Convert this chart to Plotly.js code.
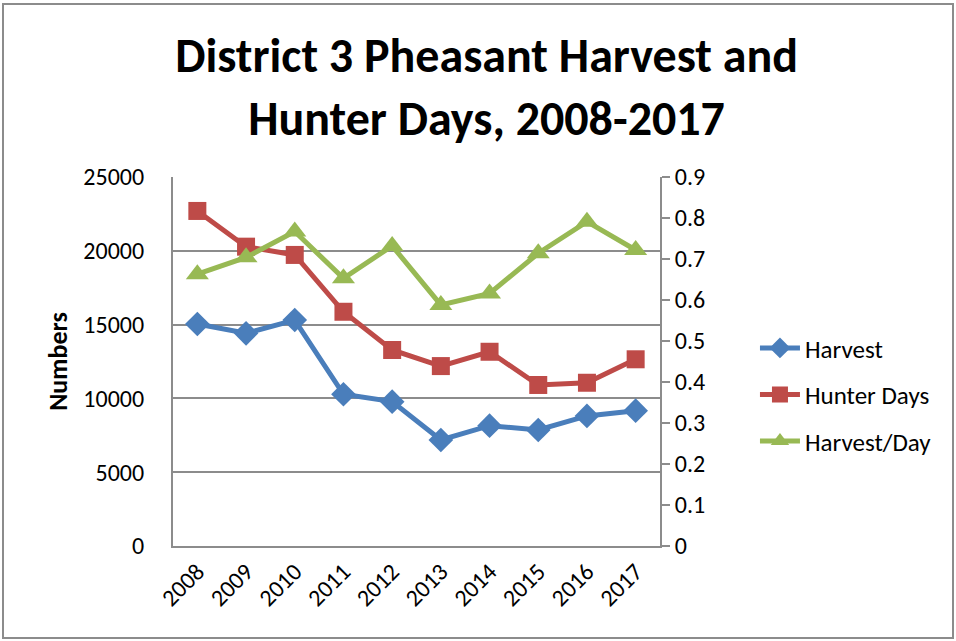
<!DOCTYPE html>
<html>
<head>
<meta charset="utf-8">
<script src="https://cdn.plot.ly/plotly-3.0.1.min.js"></script>
<style>
html,body{margin:0;padding:0;background:#fff;}
#frame{position:absolute;left:2px;top:3px;width:948px;height:632px;border:2px solid #8c8c8c;}
#chart{position:absolute;left:0;top:0;width:956px;height:641px;}
</style>
</head>
<body>
<div id="frame"></div>
<div id="chart"></div>
<script>
const years = ['2008','2009','2010','2011','2012','2013','2014','2015','2016','2017'];
const harvest = [15040, 14410, 15310, 10280, 9780, 7180, 8150, 7860, 8810, 9170];
const hunterDays = [22700, 20280, 19720, 15870, 13280, 12190, 13160, 10910, 11060, 12650];
const harvestPerDay = [0.663, 0.704, 0.767, 0.653, 0.732, 0.588, 0.616, 0.714, 0.791, 0.722];
const leftTicks = [0, 5000, 10000, 15000, 20000, 25000];
const rightTicks = [0, 0.1, 0.2, 0.3, 0.4, 0.5, 0.6, 0.7, 0.8, 0.9];

const font = 'Carlito, Calibri, "Liberation Sans Narrow", "Open Sans", sans-serif';

const traces = [
  {x: years, y: harvest, name: 'Harvest', type: 'scatter', mode: 'lines+markers', legendgroup: 'a',
   line: {color: '#4A7EBB', width: 5}, marker: {symbol: 'diamond', size: 19, color: '#4A7EBB'}},
  {x: years, y: hunterDays, name: 'Hunter Days', type: 'scatter', mode: 'lines+markers', legendgroup: 'b',
   line: {color: '#BE4B48', width: 5}, marker: {symbol: 'square', size: 18, color: '#BE4B48'}},
  {x: years, y: harvestPerDay, name: 'Harvest/Day', type: 'scatter', mode: 'lines+markers', yaxis: 'y2', legendgroup: 'c',
   line: {color: '#98B954', width: 5}, marker: {symbol: 'triangle-up', size: 20, color: '#98B954'}}
];

const layout = {
  width: 956, height: 641,
  paper_bgcolor: 'rgba(0,0,0,0)', plot_bgcolor: '#fff',
  margin: {l: 173, r: 296, t: 177, b: 95},
  font: {family: font, size: 24, color: '#000'},
  title: {text: '<b>District 3 Pheasant Harvest and<br>Hunter Days, 2008-2017</b>',
          font: {family: font, size: 48, color: '#000'}, x: 0.509, xanchor: 'center', xref: 'container',
          y: 0.887, yanchor: 'middle', yref: 'container'},
  showlegend: true,
  legend: {x: 1.195, xanchor: 'left', y: 0.41, yanchor: 'middle', xref: 'paper', font: {family: font, size: 25},
           tracegroupgap: 11, itemwidth: 40, bgcolor: 'rgba(0,0,0,0)'},
  xaxis: {type: 'category', range: [-0.5, 9.5], tickangle: -45, showgrid: false,
          showline: true, linecolor: '#8c8c8c', linewidth: 2, ticks: '', mirror: false,
          tickfont: {family: font, size: 24}, fixedrange: true},
  yaxis: {range: [0, 25000], tickvals: leftTicks, ticktext: leftTicks.map(String),
          showgrid: true, gridcolor: '#8c8c8c', gridwidth: 2, zeroline: false,
          showline: true, linecolor: '#8c8c8c', linewidth: 2, ticks: '',
          ticklabelstandoff: 22,
          title: {text: '<b>Numbers</b>', font: {family: font, size: 26}, standoff: 8},
          tickfont: {family: font, size: 24}},
  yaxis2: {range: [0, 0.9], overlaying: 'y', side: 'right', tickvals: rightTicks,
           ticktext: rightTicks.map(v => String(Math.round(v*10)/10)),
           showgrid: false, zeroline: false, showline: true, linecolor: '#8c8c8c', linewidth: 2,
           ticks: 'outside', ticklen: 8, tickwidth: 2, tickcolor: '#8c8c8c',
           tickfont: {family: font, size: 24}}
};

Plotly.newPlot('chart', traces, layout, {displayModeBar: false, staticPlot: true});
</script>
</body>
</html>
